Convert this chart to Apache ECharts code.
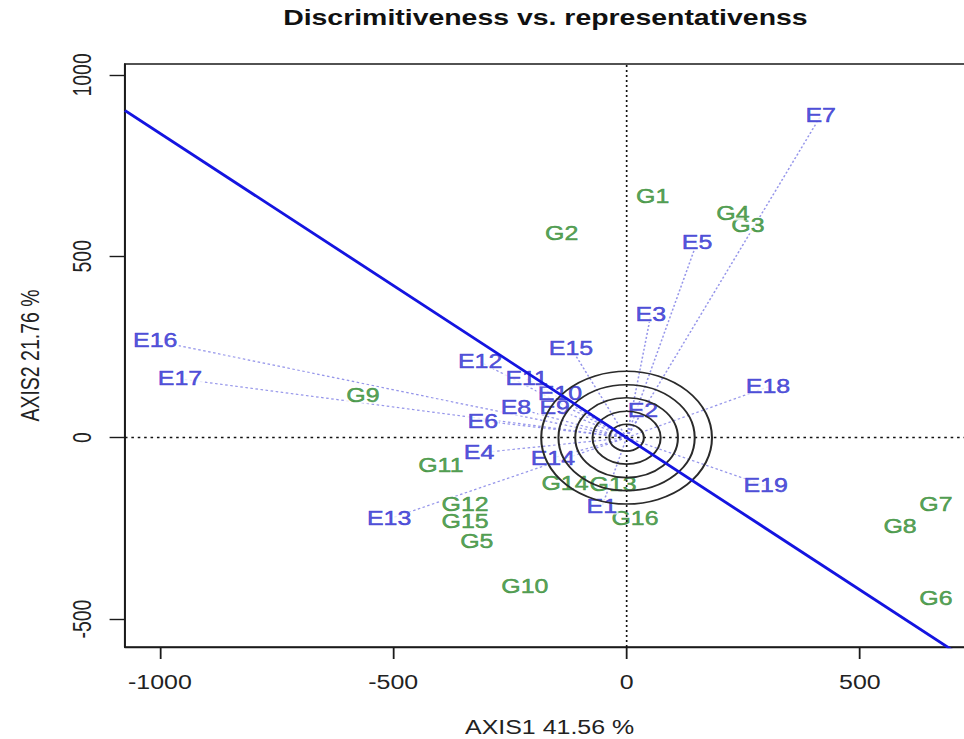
<!DOCTYPE html>
<html>
<head>
<meta charset="utf-8">
<title>Discrimitiveness vs. representativenss</title>
<script src="https://cdn.jsdelivr.net/npm/echarts@6/dist/echarts.min.js"></script>
<style>
  html, body { margin: 0; padding: 0; background: #fff; overflow: hidden; width: 964px; height: 739px; }
  /* the plot is laid out on a narrower canvas and widened horizontally;
     its right edge runs just past the window */
  #chart { width: 761px; height: 739px; transform: scaleX(1.2802); transform-origin: 0 0; }
</style>
</head>
<body>
<div id="chart"></div>
<script>
// Environment scores (AXIS1, AXIS2)
const envNames = ['E1','E2','E3','E4','E5','E6','E7','E8','E9','E10','E11','E12','E13','E14','E15','E16','E17','E18','E19'];
const envX = [-53, 35, 52, -316, 151, -308, 416, -237, -154, -143, -214, -314, -509, -158, -119, -1010, -957, 303, 298];
const envY = [-191, 76, 339, -42, 539, 46, 887, 82, 82, 123, 162, 209, -224, -56, 247, 267, 162, 140, -133];

// Genotype scores (AXIS1, AXIS2)
const genNames = ['G1','G2','G3','G4','G5','G6','G7','G8','G9','G10','G11','G12','G13','G14','G15','G16'];
const genX = [56, -139, 260, 228, -321, 663, 663, 586, -565, -218, -398, -346, -29, -132, -346, 18];
const genY = [666, 562, 584, 619, -285, -442, -185, -246, 115, -409, -78, -183, -128, -125, -232, -224];

// Concentric circles around the origin and the average-environment axis
const ringRadii = [37, 73, 110, 146, 183];
const axisSlope = -0.839;

// Axis extents and tick values
const xRange = [-1075, 745];
const yRange = [-577, 1030];
const xTicks = [-1000, -500, 0, 500];
const yTicks = [-500, 0, 500, 1000];

const FONT = '"Liberation Sans", Arial, Helvetica, sans-serif';
const ENV_COLOR = '#2a2ad0';
const GEN_COLOR = '#2e8a2e';
const plainNumber = v => String(v);

const chart = echarts.init(document.getElementById('chart'), null, { renderer: 'svg' });

const labelBase = {
  show: true,
  position: 'inside',
  formatter: '{b}',
  fontFamily: FONT,
  fontSize: 19.5,
  lineHeight: 15,
  backgroundColor: '#ffffff',
  padding: [0, 1],
  textBorderWidth: 0.5
};

const option = {
  animation: false,
  backgroundColor: '#ffffff',
  title: {
    text: 'Discrimitiveness vs. representativenss',
    left: 426,
    top: 6,
    textAlign: 'center',
    padding: 0,
    textStyle: { fontFamily: FONT, fontSize: 22.2, fontWeight: 'bold', color: '#111' }
  },
  grid: {
    left: 97.6, right: 0, top: 64, bottom: 92,
    outerBoundsMode: 'none',
    containLabel: false,
    show: true, borderColor: '#1a1a1a', borderWidth: 1.4, backgroundColor: 'transparent'
  },
  xAxis: {
    type: 'value', min: xRange[0], max: xRange[1],
    name: 'AXIS1 41.56 %', nameLocation: 'middle', nameGap: 70,
    nameTextStyle: { fontFamily: FONT, fontSize: 19.5, color: '#222' },
    axisLine: { show: true, onZero: false, lineStyle: { color: '#1a1a1a', width: 1.4 } },
    axisTick: { show: true, customValues: xTicks, length: 12, lineStyle: { color: '#1a1a1a', width: 1.4 } },
    axisLabel: { show: true, customValues: xTicks, formatter: plainNumber, margin: 25, fontFamily: FONT, fontSize: 19.5, color: '#222' },
    splitLine: { show: false }
  },
  yAxis: {
    type: 'value', min: yRange[0], max: yRange[1],
    name: 'AXIS2 21.76 %', nameLocation: 'middle', nameGap: 64,
    nameTextStyle: { fontFamily: FONT, fontSize: 19.5, color: '#222' },
    axisLine: { show: true, onZero: false, lineStyle: { color: '#1a1a1a', width: 1.4 } },
    axisTick: { show: true, customValues: yTicks, length: 12, lineStyle: { color: '#1a1a1a', width: 1.4 } },
    axisLabel: { show: true, customValues: yTicks, formatter: plainNumber, rotate: 90, margin: 23, fontFamily: FONT, fontSize: 19.5, color: '#222' },
    splitLine: { show: false }
  },
  series: [
    // dotted reference lines through the origin
    {
      type: 'line', data: [], z: 1, silent: true,
      markLine: {
        symbol: 'none', silent: true, label: { show: false },
        lineStyle: { color: '#111', type: [2, 3], width: 1.3 },
        data: [{ xAxis: 0 }, { yAxis: 0 }]
      }
    },
    // environment vectors from the origin
    {
      type: 'lines', coordinateSystem: 'cartesian2d', z: 2, silent: true,
      lineStyle: { color: '#8a8ae8', width: 1.2, type: [2, 2], opacity: 0.9 },
      data: envNames.map((n, i) => ({ coords: [[0, 0], [envX[i], envY[i]]] }))
    },
    // genotype labels
    {
      type: 'scatter', z: 3, symbolSize: 0.1,
      itemStyle: { color: 'rgba(0,0,0,0)' },
      label: Object.assign({}, labelBase, { color: GEN_COLOR, textBorderColor: GEN_COLOR }),
      data: genNames.map((n, i) => ({ name: n, value: [genX[i], genY[i]] }))
    },
    // environment labels
    {
      type: 'scatter', z: 4, symbolSize: 0.1,
      itemStyle: { color: 'rgba(0,0,0,0)' },
      label: Object.assign({}, labelBase, { color: ENV_COLOR, textBorderColor: ENV_COLOR }),
      data: envNames.map((n, i) => ({ name: n, value: [envX[i], envY[i]] }))
    },
    // concentric circles centred on the origin
    {
      type: 'custom', z: 8, silent: true,
      data: ringRadii.map(r => [r]),
      renderItem: function (params, api) {
        const r = api.value(0);
        const c = api.coord([0, 0]);
        const s = api.size([r, r]);
        const rx = s[0], ry = s[1];
        const d = 'M' + (c[0] - rx) + ' ' + c[1] +
          ' A' + rx + ' ' + ry + ' 0 1 0 ' + (c[0] + rx) + ' ' + c[1] +
          ' A' + rx + ' ' + ry + ' 0 1 0 ' + (c[0] - rx) + ' ' + c[1] + ' Z';
        return {
          type: 'path',
          shape: { pathData: d },
          style: { fill: 'none', stroke: '#2a2a2a', lineWidth: 1.6 }
        };
      }
    },
    // average-environment axis through the origin
    {
      type: 'line', z: 9, silent: true, clip: true, symbol: 'none',
      lineStyle: { color: '#1414e0', width: 2.6 },
      data: [[xRange[0], axisSlope * xRange[0]], [xRange[1], axisSlope * xRange[1]]]
    }
  ]
};

chart.setOption(option);
</script>
</body>
</html>
